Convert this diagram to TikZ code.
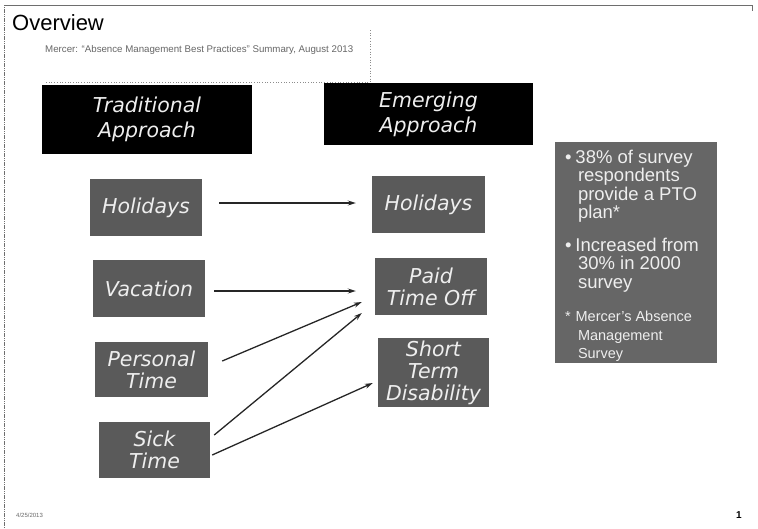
\documentclass[tikz,border=0pt]{standalone}
\usepackage{fontspec}
\setmainfont{Liberation Sans}
\newfontfamily\boxfont{DejaVu Sans}
\usetikzlibrary{arrows.meta,positioning,calc}
\definecolor{boxgray}{RGB}{90,90,90}
\definecolor{statgray}{RGB}{102,102,102}
\definecolor{boxtext}{RGB}{238,238,238}
\definecolor{framegray}{RGB}{110,110,110}

\begin{document}
\begin{tikzpicture}[
    x=1pt, y=-1pt,
    >=Stealth,
    headbox/.style={fill=black, minimum width=#1, inner sep=0pt, align=center,
                    font=\boxfont\itshape\fontsize{20.5}{25}\selectfont, text=boxtext},
    itembox/.style={fill=boxgray, minimum width=#1, inner sep=0pt, align=center,
                    font=\boxfont\itshape\fontsize{20.5}{22}\selectfont, text=boxtext},
    arr/.style={-{Stealth[length=8pt,width=5pt]}, line width=1.3pt, color=black!85},
    framel/.style={color=framegray, line width=0.8pt},
]
\useasboundingbox (0,0) rectangle (758,528);

% ============ PAGE FRAME ============
\coordinate (ftl) at (4,5);
\coordinate (fbl) at (4,528);
\coordinate (ftr) at (752,5);
\draw[framel, dash pattern=on 1.2pt off 0.6pt] (ftl) -- (fbl);
\draw[framel] (ftl) -- (ftr) -- ++(0,6);

% ============ TITLE ============
\node[anchor=base west, inner sep=0pt, font=\fontsize{22}{24}\selectfont] (title) at (12,30) {Overview};
\node[anchor=base west, inner sep=0pt, font=\fontsize{9.7}{11}\selectfont, color=black!60] (src) at (45,52)
    {Mercer: ``Absence Management Best Practices'' Summary, August 2013};
\coordinate (srctop) at (370,30);
\coordinate (srccorner) at (370,82);
\coordinate (srcleft) at (45,82);
\draw[color=black!45, line width=0.7pt, dotted] (srctop) -- (srccorner) -- (srcleft);

% ============ HEADERS ============
\node[headbox=210pt, minimum height=69pt] (trad) at (147,119) {Traditional\\Approach};
\node[headbox=209pt, minimum height=62pt] (emerg) at (428.5,114) {Emerging\\Approach};

% ============ TRADITIONAL (LEFT) ============
\node[itembox=112pt, minimum height=57pt] (lhol) at (146,207.5) {Holidays};
\node[itembox=112pt, minimum height=57pt] (lvac) at (149,288.5) {Vacation};
\node[itembox=113pt, minimum height=55pt] (lper) at (151.5,369.5) {Personal\\Time};
\node[itembox=111pt, minimum height=56pt] (lsick) at (154.5,450) {Sick\\Time};

% ============ EMERGING (RIGHT) ============
\node[itembox=113pt, minimum height=57pt] (rhol) at (428.5,204.5) {Holidays};
\node[itembox=112pt, minimum height=57pt] (rpto) at (431,286.5) {Paid\\Time Off};
\node[itembox=111pt, minimum height=69pt] (rstd) at (433.5,372.5) {Short\\Term\\Disability};

% ============ ARROWS ============
\draw[arr] ([xshift=17pt, yshift=4.5pt]lhol.east) -- ([xshift=-16pt, yshift=1.5pt]rhol.west);
\draw[arr] ([xshift=9pt, yshift=-2.5pt]lvac.east) -- ([xshift=-19pt, yshift=-4.5pt]rpto.west);
\draw[arr] ([xshift=14pt, yshift=8.5pt]lper.east) -- ([xshift=-13pt, yshift=-15.5pt]rpto.west);
\draw[arr] ([xshift=4pt, yshift=15pt]lsick.east) -- ([xshift=-13pt, yshift=-26.5pt]rpto.west);
\draw[arr] ([xshift=2pt, yshift=-5pt]lsick.east) -- ([xshift=-5pt, yshift=-10.5pt]rstd.west);

% ============ SURVEY BOX ============
\node[fill=statgray, minimum width=162pt, minimum height=221pt, inner sep=0pt] (stat) at (636,252.5) {};
\node[anchor=north west, inner sep=0pt, align=left, text=boxtext,
      font=\fontsize{18.5}{18.5}\selectfont] (stattext) at ($(stat.north west)+(10,8)$) {%
    \textbullet\hspace{4pt}38\% of survey\\
    \hspace{13pt}respondents\\
    \hspace{13pt}provide a PTO\\
    \hspace{13pt}plan*\\[14pt]
    \textbullet\hspace{4pt}Increased from\\
    \hspace{13pt}30\% in 2000\\
    \hspace{13pt}survey\\[15pt]
    \fontsize{14.5}{15}\selectfont *\hspace{5pt}Mercer's Absence\\
    \fontsize{14.5}{15}\selectfont \hspace{13pt}Management\\
    \fontsize{14.5}{15}\selectfont \hspace{13pt}Survey};

% ============ FOOTER ============
\node[anchor=base west, inner sep=0pt, font=\fontsize{6}{7}\selectfont, color=black!60] (foot) at (16,517) {4/25/2013};
\node[anchor=base east, inner sep=0pt, font=\bfseries\fontsize{10}{12}\selectfont] (pagenum) at (742,518) {1};

\end{tikzpicture}
\end{document}
